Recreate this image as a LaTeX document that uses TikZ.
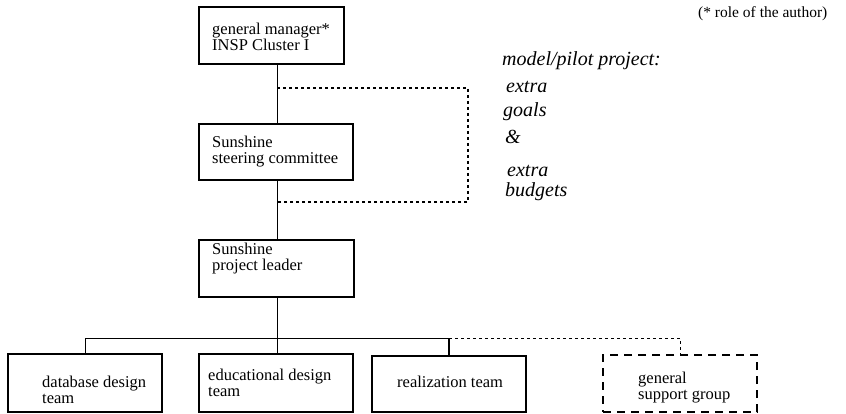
\documentclass[tikz,border=0pt]{standalone}
\usepackage{fontspec}
\setmainfont{Liberation Serif}
\begin{document}
\begin{tikzpicture}[x=1pt,y=-1pt,
  unit/.style={draw, line width=1.2pt, inner sep=0pt},
  unitdashed/.style={draw, line width=1.1pt, inner sep=0pt, dash pattern=on 8pt off 6pt},
  boxtext/.style={anchor=base west, inner sep=0pt, font=\fontsize{16.5}{16}\selectfont, align=left},
  note/.style={anchor=base west, inner sep=0pt, font=\fontsize{20}{20}\selectfont\itshape},
  link/.style={line width=0.9pt},
  extra/.style={line width=1.5pt, dash pattern=on 3pt off 3pt},
  support/.style={line width=1pt, dash pattern=on 3pt off 3pt}]
\useasboundingbox (0,0) rectangle (846,414);

% organisation units
\node[unit, minimum width=145pt, minimum height=57pt] (gm)   at (271.5,35.5) {};
\node[unit, minimum width=154pt, minimum height=56pt] (sc)   at (276,152) {};
\node[unit, minimum width=155pt, minimum height=57pt] (pl)   at (276.5,268.5) {};
\node[unit, minimum width=154pt, minimum height=58pt] (db)   at (85,383) {};
\node[unit, minimum width=154pt, minimum height=58pt] (edu)  at (276,383) {};
\node[unit, minimum width=154pt, minimum height=56pt] (real) at (449,384) {};
\node[unitdashed, minimum width=154pt, minimum height=57pt] (gsg) at (680,383.5) {};

% unit labels (anchored on the baseline of the last line)
\node[boxtext] (gmtext)   at (212,51)  {general manager*\\INSP Cluster I};
\node[boxtext] (sctext)   at (212,164) {Sunshine\\steering committee};
\node[boxtext] (pltext)   at (212,270) {Sunshine\\project leader};
\node[boxtext] (dbtext)   at (42,403)  {database design\\team};
\node[boxtext] (edutext)  at (208,396) {educational design\\team};
\node[boxtext] (realtext) at (397,387) {realization team};
\node[boxtext] (gsgtext)  at (638,399) {general\\support group};

% reporting lines
\coordinate (trunk) at (277,0);
\coordinate (bus) at (0,338);
\draw[link] (gm.south -| trunk) -- (sc.north -| trunk);
\draw[link] (sc.south -| trunk) -- (pl.north -| trunk);
\draw[link] (pl.south -| trunk) -- (edu.north -| trunk);
\draw[link] (db.north) -- (db.north |- bus) -- (real.north |- bus);
\draw[line width=1.6pt] (real.north |- bus) -- (real.north);
\draw[support] (real.north |- bus) -- (gsg.north |- bus) -- (gsg.north);

% model/pilot project bracket
\coordinate (brA) at (277,88);
\coordinate (brB) at (468,88);
\coordinate (brC) at (468,202);
\coordinate (brD) at (277,202);
\draw[extra] (brA) -- (brB) -- (brC) -- (brD);

\node[note] (pilot)   at (502,66)  {model/pilot project:};
\node[note] (extra1)  at (506,93)  {extra};
\node[note] (goals)   at (503,117) {goals};
\node[note] (amp)     at (505,144) {\&};
\node[note] (extra2)  at (507,177) {extra};
\node[note] (budgets) at (505,197) {budgets};

\node[anchor=base west, inner sep=0pt, font=\fontsize{15.5}{15.5}\selectfont] (role) at (698,18) {(* role of the author)};
\end{tikzpicture}
\end{document}
